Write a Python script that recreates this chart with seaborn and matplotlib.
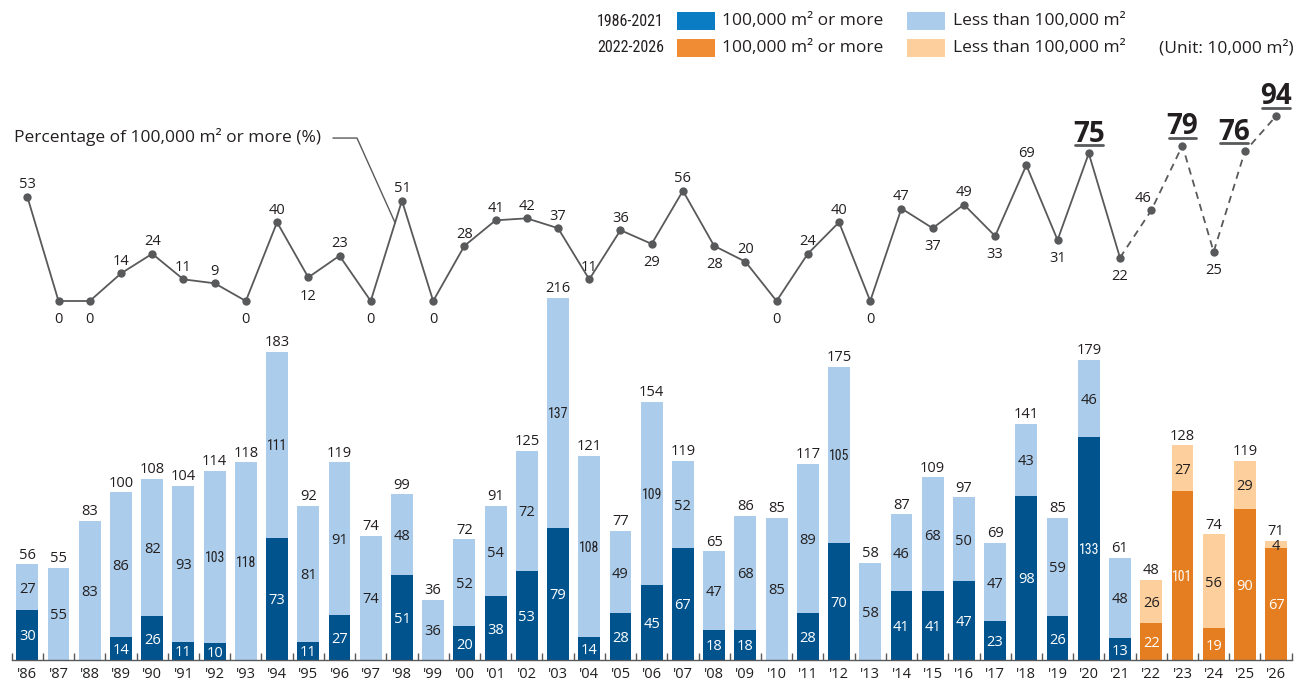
import numpy as np
import pandas as pd
import matplotlib
matplotlib.use("Agg")
import matplotlib.pyplot as plt
import seaborn as sns
from matplotlib import font_manager
from matplotlib.lines import Line2D
from matplotlib.patches import Rectangle

# ---- data (unit: 10,000 m²) ----
years = ["'86", "'87", "'88", "'89", "'90", "'91", "'92", "'93", "'94", "'95",
         "'96", "'97", "'98", "'99", "'00", "'01", "'02", "'03", "'04", "'05",
         "'06", "'07", "'08", "'09", "'10", "'11", "'12", "'13", "'14", "'15",
         "'16", "'17", "'18", "'19", "'20", "'21", "'22", "'23", "'24", "'25", "'26"]
large = [30, 0, 0, 14, 26, 11, 10, 0, 73, 11,
         27, 0, 51, 0, 20, 38, 53, 79, 14, 28,
         45, 67, 18, 18, 0, 28, 70, 0, 41, 41,
         47, 23, 98, 26, 133, 13, 22, 101, 19, 90, 67]
small = [27, 55, 83, 86, 82, 93, 103, 118, 111, 81,
         91, 74, 48, 36, 52, 54, 72, 137, 108, 49,
         109, 52, 47, 68, 85, 89, 105, 58, 46, 68,
         50, 47, 43, 59, 46, 48, 26, 27, 56, 29, 4]
total = [56, 55, 83, 100, 108, 104, 114, 118, 183, 92,
         119, 74, 99, 36, 72, 91, 125, 216, 121, 77,
         154, 119, 65, 86, 85, 117, 175, 58, 87, 109,
         97, 69, 141, 85, 179, 61, 48, 128, 74, 119, 71]
share = [53, 0, 0, 14, 24, 11, 9, 0, 40, 12,
         23, 0, 51, 0, 28, 41, 42, 37, 11, 36,
         29, 56, 28, 20, 0, 24, 40, 0, 47, 37,
         49, 33, 69, 31, 75, 22, 46, 79, 25, 76, 94]
first_forecast = years.index("'22")

# where each share label sits: a = above, b = below, A = large highlighted
share_pos = ['a', 'b', 'b', 'a', 'a', 'a', 'a', 'b', 'a', 'b',
             'a', 'b', 'a', 'b', 'a', 'a', 'a', 'a', 'a', 'a',
             'b', 'a', 'b', 'a', 'b', 'a', 'a', 'b', 'a', 'b',
             'a', 'b', 'a', 'b', 'A', 'b', 'a', 'A', 'b', 'A', 'A']
share_dx = {36: -6, 39: -8}

# ---- style ----
C_DARK, C_LIGHT = "#00538D", "#ABCDEB"
C_ORANGE, C_PEACH = "#E57D21", "#FDCF9C"
LEG_DARK, LEG_ORANGE = "#0A7CC4", "#F08C33"
TXT = "#231F20"
LINE = "#58595B"
FS = 10.5

sns.set_theme(style="white")
installed = {f.name for f in font_manager.fontManager.ttflist}
BASE = "Open Sans" if "Open Sans" in installed else "DejaVu Sans"
NARROW = next((f for f in ["Liberation Sans Narrow", "Roboto Condensed", "Open Sans Condensed"]
               if f in installed), BASE)
plt.rcParams["font.family"] = [BASE, "DejaVu Sans"]
plt.rcParams["text.color"] = TXT

W, H = 1306, 684
fig = plt.figure(figsize=(W / 100, H / 100), dpi=100)

def fx(px):
    return px / W

def fy(py):
    return 1 - py / H

# bar axes: baseline 660 px from top, 1.676 px per unit
x_left, x_right = 11.7, 1291.7
ax = fig.add_axes([fx(x_left), fy(660), fx(x_right - x_left), 660 / H])

df = pd.DataFrame({"year": years, "large": large, "small": small, "total": total})
df["stack"] = df["large"] + df["small"]
light_pal = {y: (C_LIGHT if i < first_forecast else C_PEACH) for i, y in enumerate(years)}
dark_pal = {y: (C_DARK if i < first_forecast else C_ORANGE) for i, y in enumerate(years)}

sns.barplot(data=df, x="year", y="stack", hue="year", palette=light_pal, legend=False,
            width=0.7, saturation=1, ax=ax, order=years)
sns.barplot(data=df, x="year", y="large", hue="year", palette=dark_pal, legend=False,
            width=0.7, saturation=1, ax=ax, order=years)
for p in ax.patches:
    p.set_linewidth(0)

ax.set_xlim(-0.5, len(years) - 0.5)
ax.set_ylim(0, 660 / 1.676)
ax.set_xlabel("")
ax.set_ylabel("")
ax.set_yticks([])
for s in ["top", "left", "right"]:
    ax.spines[s].set_visible(False)
ax.spines["bottom"].set_color(LINE)
ax.spines["bottom"].set_linewidth(1.0)
ax.set_xticks(np.arange(len(years)))
ax.set_xticklabels(years)
ax.set_xticks(np.arange(-0.5, len(years)), minor=True)
ax.tick_params(axis="x", which="major", length=0, pad=5, labelsize=FS, labelcolor=TXT)
ax.tick_params(axis="x", which="minor", direction="in", length=5, width=1, color=LINE,
               bottom=True)

# segment and total labels
for i in range(len(years)):
    lg, sm, st = large[i], small[i], large[i] + small[i]
    if lg > 0:
        narrow = lg >= 100
        ax.text(i, lg / 2, str(lg), ha="center", va="center_baseline", color="white",
                fontsize=10 if narrow else FS, family=NARROW if narrow else BASE)
    if sm > 0:
        narrow = sm >= 100
        ax.text(i, lg + sm / 2, str(sm), ha="center", va="center_baseline", color=TXT,
                fontsize=10 if narrow else FS, family=NARROW if narrow else BASE)
    ax.annotate(str(total[i]), (i, st), xytext=(0, 4), textcoords="offset points",
                ha="center", va="baseline", fontsize=FS, color=TXT)

# share line on a twin axis: 0 at 301 px from top, 1.968 px per point
ax2 = ax.twinx()
ax2.set_ylim(-359 / 1.968, 301 / 1.968)
ax2.set_yticks([])
for s in ax2.spines.values():
    s.set_visible(False)

idx = np.arange(len(years))
sns.lineplot(x=idx[:first_forecast], y=share[:first_forecast], ax=ax2, color=LINE,
             linewidth=1.3, estimator=None)
sns.lineplot(x=idx[first_forecast - 1:], y=share[first_forecast - 1:], ax=ax2, color=LINE,
             linewidth=1.3, linestyle=(0, (4, 3)), estimator=None)
sns.scatterplot(x=idx, y=share, ax=ax2, color=LINE, s=36, linewidth=0, zorder=5)
ax2.set_xlim(-0.5, len(years) - 0.5)

big_labels = []
for i, v in enumerate(share):
    pos = share_pos[i]
    dx = share_dx.get(i, 0)
    if pos == "a":
        ax2.annotate(str(v), (i, v), xytext=(dx, 6), textcoords="offset points",
                     ha="center", va="baseline", fontsize=FS, color=TXT)
    elif pos == "b":
        ax2.annotate(str(v), (i, v), xytext=(dx, -16), textcoords="offset points",
                     ha="center", va="baseline", fontsize=FS, color=TXT)
    else:
        t = ax2.annotate(str(v), (i, v), xytext=(dx, 8.5), textcoords="offset points",
                         ha="center", va="baseline", fontsize=20, fontweight="bold",
                         color=TXT)
        big_labels.append((t, i, v))

# series caption with leader line down to the '97-'98 segment
ax2.text(-0.43, 83.3, "Percentage of 100,000 m² or more (%)", ha="left",
         va="center", fontsize=12.5, color=TXT)
lead_x = 11.78
lead_y = np.interp(lead_x, idx, share)
ax2.plot([9.79, 10.56, lead_x], [82.8, 82.8, lead_y], color=LINE, linewidth=1.0)

# legend drawn in figure space
def swatch(x0, y0, color):
    fig.add_artist(Rectangle((fx(x0), fy(y0 + 18)), fx(38), 18 / H,
                             transform=fig.transFigure, facecolor=color, edgecolor="none"))

rows = [(21, "1986-2021", LEG_DARK, C_LIGHT), (48, "2022-2026", LEG_ORANGE, C_PEACH)]
for yc, label, c1, c2 in rows:
    fig.text(fx(597), fy(yc), label, ha="left", va="center", fontsize=11.5,
             family=NARROW, color=TXT)
    swatch(677, yc - 9, c1)
    fig.text(fx(722), fy(yc), "100,000 m² or more", ha="left", va="center",
             fontsize=12.5, color=TXT)
    swatch(907, yc - 9, c2)
    fig.text(fx(953), fy(yc), "Less than 100,000 m²", ha="left", va="center",
             fontsize=12.5, color=TXT)
fig.text(fx(1294), fy(48), "(Unit: 10,000 m²)", ha="right", va="center",
         fontsize=12.5, color=TXT)

# underline the highlighted share values
fig.canvas.draw()
renderer = fig.canvas.get_renderer()
inv = fig.transFigure.inverted()
for t, i, v in big_labels:
    bb = t.get_window_extent(renderer)
    _, py = ax2.transData.transform((i, v))
    yline = py + 8
    (x0, y0), (x1, y1) = inv.transform([(bb.x0 + 2, yline), (bb.x1 - 2, yline)])
    fig.add_artist(Line2D([x0, x1], [y0, y1], transform=fig.transFigure,
                          color=LINE, linewidth=2.0))

fig.savefig("out.png", dpi=100)
